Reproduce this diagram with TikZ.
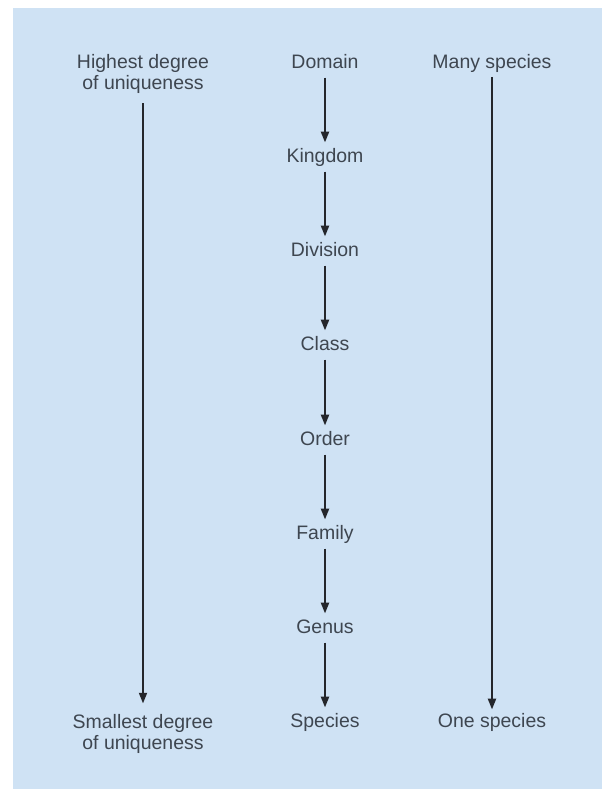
\documentclass[tikz,border=0pt]{standalone}
\usepackage{fontspec}
\setmainfont{Liberation Sans}
\usetikzlibrary{arrows.meta}
\definecolor{bgblue}{RGB}{207,226,244}
\definecolor{txt}{RGB}{62,70,80}
\definecolor{arr}{RGB}{36,38,43}
\tikzset{
  lbl/.style={anchor=base, inner sep=0pt, outer sep=0pt, text=txt,
    font=\fontsize{14.6pt}{15.6pt}\selectfont, text height=0.72em, text depth=0.22em},
  lbl2/.style={anchor=base, inner sep=0pt, outer sep=0pt, text=txt, align=center,
    font=\fontsize{14.6pt}{15.6pt}\selectfont},
  link/.style={draw=arr, line width=1.4pt, -{Triangle[length=8pt,width=6pt]}},
}
\begin{document}
\begin{tikzpicture}[x=0.75pt,y=-0.75pt]
\useasboundingbox (0,0) rectangle (602,789);
\fill[bgblue] (13,8) rectangle (602,789);
% middle column
\node[lbl] (n1) at (325,68) {Domain};
\node[lbl] (n2) at (325,162) {Kingdom};
\node[lbl] (n3) at (325,256) {Division};
\node[lbl] (n4) at (325,350) {Class};
\node[lbl] (n5) at (325,445) {Order};
\node[lbl] (n6) at (325,539) {Family};
\node[lbl] (n7) at (325,633) {Genus};
\node[lbl] (n8) at (325,727) {Species};
\foreach \a/\b in {n1/n2,n2/n3,n3/n4,n4/n5,n5/n6,n6/n7,n7/n8}
  \draw[link, shorten <=5pt, shorten >=7.5pt] (\a.south) -- (\b.north);
% left column
\node[lbl2] (hi) at (143,89) {Highest degree\\of uniqueness};
\node[lbl2] (lo) at (143,749) {Smallest degree\\of uniqueness};
\draw[link, shorten <=7.5pt, shorten >=8pt] (hi.south) -- (lo.north);
% right column
\node[lbl] (many) at (492,68) {Many species};
\node[lbl] (one) at (492,727) {One species};
\draw[link, shorten <=4.5pt, shorten >=6pt] (many.south) -- (one.north);
\end{tikzpicture}
\end{document}
